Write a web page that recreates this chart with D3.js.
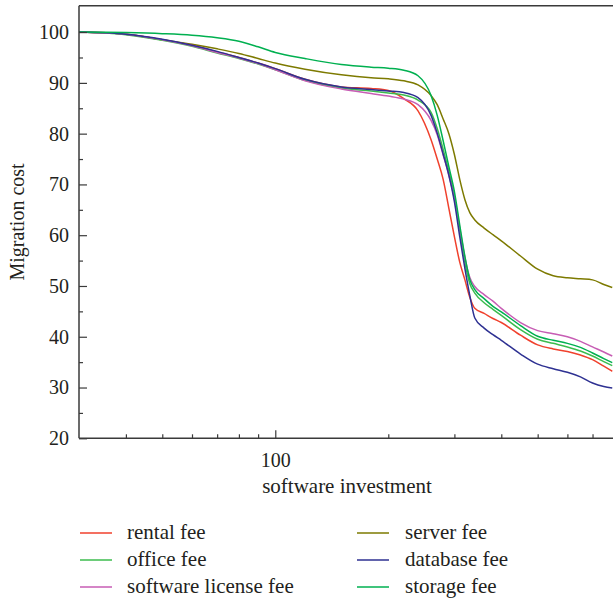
<!DOCTYPE html>
<html>
<head>
<meta charset="utf-8">
<script src="https://cdn.jsdelivr.net/npm/d3@7/dist/d3.min.js"></script>
<style>
  html, body { margin: 0; padding: 0; background: #fff; }
  svg { display: block; }
  text { font-family: "Liberation Serif", "DejaVu Serif", serif; fill: #231f20; }
</style>
</head>
<body>
<svg id="chart" width="613" height="601"></svg>
<script>
// ---- data ----
const xValues = [30, 40, 50, 60, 70, 80, 90, 100, 120, 150, 180, 200, 220, 240, 260, 270, 280, 290, 300, 310, 320, 330, 340, 360, 380, 400, 450, 500, 550, 600, 650, 700, 750, 790];

const rentalFee   = [100, 99.6, 98.5, 97.4, 96.1, 95.0, 93.9, 92.8, 90.7, 89.2, 88.9, 88.5, 86.9, 84.5, 78.8, 75.0, 71.0, 65.3, 59.7, 54.7, 51.2, 47.7, 45.6, 44.6, 43.6, 42.8, 40.3, 38.4, 37.6, 37.1, 36.4, 35.5, 34.2, 33.2];
const officeFee   = [100, 99.5, 98.4, 97.2, 95.9, 94.8, 93.7, 92.6, 90.5, 89.0, 88.4, 88.0, 87.6, 86.6, 84.2, 81.0, 76.9, 72.6, 67.6, 61.0, 54.6, 50.4, 48.6, 46.7, 45.4, 44.2, 41.4, 39.5, 38.7, 38.0, 37.2, 36.2, 35.1, 34.3];
const licenseFee  = [100, 99.6, 98.5, 97.3, 96.0, 94.9, 93.8, 92.6, 90.4, 88.8, 87.9, 87.4, 86.8, 85.7, 82.6, 79.8, 75.8, 71.8, 67.2, 61.4, 55.6, 51.6, 49.9, 48.3, 47.0, 45.6, 42.8, 41.2, 40.6, 40.0, 39.1, 38.0, 37.0, 36.2];
const serverFee   = [100, 99.6, 98.5, 97.6, 96.7, 95.8, 94.8, 93.9, 92.7, 91.6, 91.0, 90.8, 90.4, 89.6, 87.5, 85.7, 82.9, 80.0, 75.9, 71.0, 67.0, 64.4, 63.0, 61.4, 60.1, 58.9, 55.9, 53.3, 52.0, 51.6, 51.4, 51.2, 50.3, 49.7];
const databaseFee = [100, 99.6, 98.6, 97.4, 96.2, 95.0, 93.9, 92.8, 90.7, 89.2, 88.7, 88.4, 88.1, 87.1, 83.6, 80.1, 76.0, 71.8, 66.6, 59.7, 53.4, 48.0, 43.7, 41.7, 40.4, 39.3, 36.6, 34.6, 33.7, 33.0, 32.1, 30.9, 30.2, 29.9];
const storageFee  = [100, 99.9, 99.7, 99.4, 98.9, 98.2, 97.1, 96.0, 94.8, 93.6, 93.1, 92.9, 92.5, 91.4, 87.5, 83.6, 78.6, 73.5, 68.6, 62.0, 55.8, 51.2, 49.3, 47.5, 46.0, 44.9, 42.2, 40.1, 39.3, 38.7, 37.9, 36.8, 35.7, 34.9];

const seriesNames  = ["rental fee", "office fee", "software license fee", "server fee", "database fee", "storage fee"];
const seriesValues = [rentalFee, officeFee, licenseFee, serverFee, databaseFee, storageFee];
const seriesColors = ["#f0412d", "#3cbc4e", "#c75db4", "#7d7a00", "#2e3192", "#00b050"];

const yTickValues = [20, 30, 40, 50, 60, 70, 80, 90, 100];
const yMinorTicks = [25, 35, 45, 55, 65, 75, 85, 95];
const xMajorTicks = [100];
const xMinorTicks = [40, 50, 60, 70, 80, 90, 200, 300, 400, 500, 600, 700];

const xTitle = "software investment";
const yTitle = "Migration cost";

// ---- layout ----
const svg = d3.select("#chart");
const plotLeft = 79, plotTop = 5.7, plotBottom = 438.3;
const x = d3.scaleLog().domain([30, 800]).range([plotLeft, 614.3]);
const y = d3.scaleLinear().domain([20, 105.2]).range([plotBottom, plotTop]);

const axisColor = "#3a3a3a";

svg.append("defs").append("clipPath").attr("id", "plotclip")
  .append("rect").attr("x", plotLeft).attr("y", plotTop).attr("width", 613 - plotLeft).attr("height", plotBottom - plotTop);

const line = d3.line()
  .x((d, i) => x(xValues[i]))
  .y(d => y(d))
  .curve(d3.curveMonotoneX);

const order = [3, 0, 1, 2, 4, 5];
const gLines = svg.append("g").attr("clip-path", "url(#plotclip)");
order.forEach(k => {
  gLines.append("path")
    .datum(seriesValues[k])
    .attr("d", line)
    .attr("fill", "none")
    .attr("stroke", seriesColors[k])
    .attr("stroke-width", 1.5)
    .attr("stroke-linejoin", "round");
});

// y axis
const yAxis = d3.axisLeft(y).tickValues(yTickValues).tickSize(-8).tickPadding(10)
  .tickFormat(d3.format("d"));
const gy = svg.append("g").attr("transform", `translate(${plotLeft},0)`).call(yAxis);
gy.select(".domain").remove();
gy.selectAll(".tick line").attr("stroke", axisColor).attr("stroke-width", 1.2);
gy.selectAll(".tick text").style("font-size", "20px").style("font-family", "Liberation Serif").attr("fill", "#231f20");
const gyMinor = svg.append("g").attr("transform", `translate(${plotLeft},0)`)
  .call(d3.axisLeft(y).tickValues(yMinorTicks).tickSize(-4).tickFormat(""));
gyMinor.select(".domain").remove();
gyMinor.selectAll(".tick line").attr("stroke", axisColor).attr("stroke-width", 1.2);

// x axis
const xAxis = d3.axisBottom(x).tickValues(xMajorTicks).tickSize(-8).tickPadding(15)
  .tickFormat(d3.format("d"));
const gx = svg.append("g").attr("transform", `translate(0,${plotBottom})`).call(xAxis);
gx.select(".domain").remove();
gx.selectAll(".tick line").attr("stroke", axisColor).attr("stroke-width", 1.2);
gx.selectAll(".tick text").style("font-size", "20px").style("font-family", "Liberation Serif").attr("fill", "#231f20");
const gxMinor = svg.append("g").attr("transform", `translate(0,${plotBottom})`)
  .call(d3.axisBottom(x).tickValues(xMinorTicks).tickSize(-4).tickFormat(""));
gxMinor.select(".domain").remove();
gxMinor.selectAll(".tick line").attr("stroke", axisColor).attr("stroke-width", 1.2);

// frame lines (left, bottom, top)
svg.append("line").attr("x1", plotLeft).attr("x2", plotLeft).attr("y1", plotTop).attr("y2", plotBottom)
  .attr("stroke", axisColor).attr("stroke-width", 1.5);
svg.append("line").attr("x1", plotLeft).attr("x2", 613).attr("y1", plotBottom).attr("y2", plotBottom)
  .attr("stroke", axisColor).attr("stroke-width", 1.5);
svg.append("line").attr("x1", plotLeft).attr("x2", 613).attr("y1", plotTop).attr("y2", plotTop)
  .attr("stroke", axisColor).attr("stroke-width", 1.5);

// titles
svg.append("text").attr("x", 347).attr("y", 493).attr("text-anchor", "middle")
  .style("font-size", "21px").text(xTitle);
svg.append("text").attr("transform", `translate(24,222) rotate(-90)`).attr("text-anchor", "middle")
  .style("font-size", "20px").text(yTitle);

// legend
const legCols = [{lx: 80, tx: 127}, {lx: 357, tx: 405}];
const legRows = [533, 560, 587];
seriesNames.forEach((name, i) => {
  const c = legCols[Math.floor(i / 3)];
  const ry = legRows[i % 3];
  svg.append("line").attr("x1", c.lx).attr("x2", c.lx + 32).attr("y1", ry).attr("y2", ry)
    .attr("stroke", seriesColors[i]).attr("stroke-width", 1.5);
  svg.append("text").attr("x", c.tx).attr("y", ry + 6).style("font-size", "21px").text(name);
});
</script>
</body>
</html>
